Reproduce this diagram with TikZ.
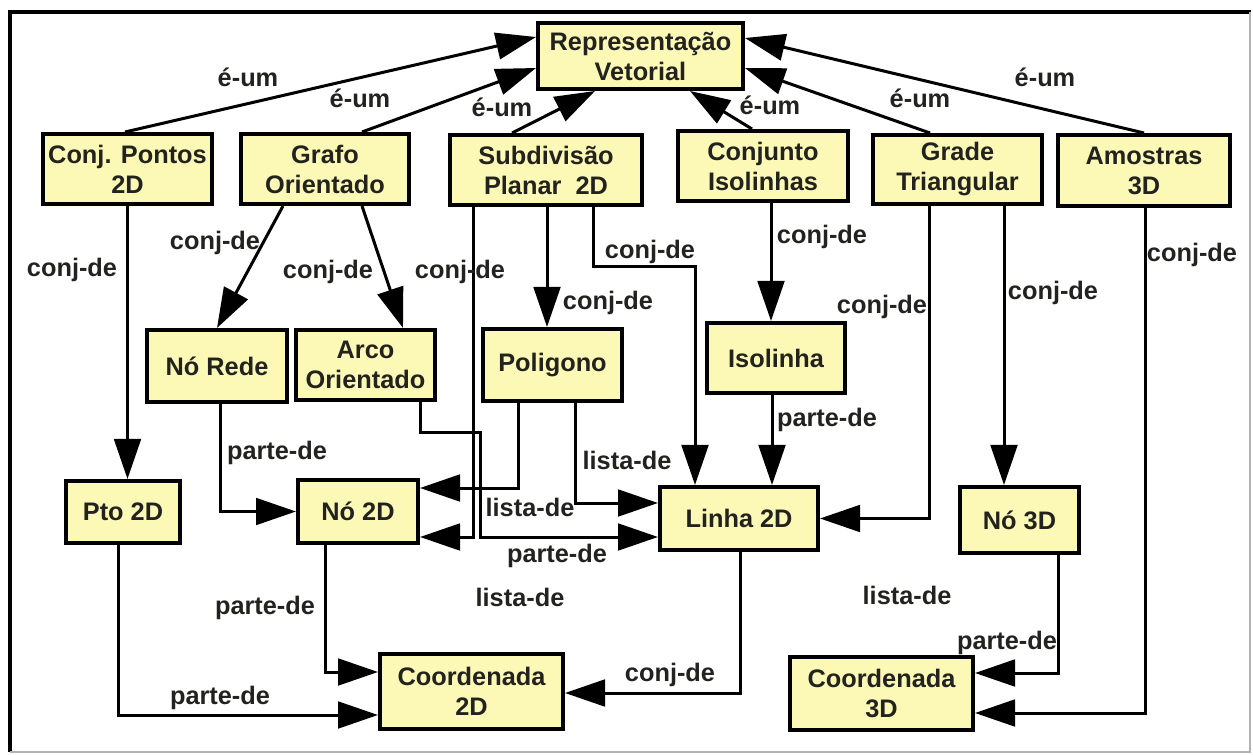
\documentclass[tikz,border=0pt]{standalone}
\usepackage{fontspec}
\setmainfont{Liberation Sans}
\usetikzlibrary{arrows.meta}
\definecolor{boxfill}{RGB}{252,248,182}
\definecolor{txt}{RGB}{34,34,30}
\tikzset{
  box/.style={draw, line width=3pt, fill=boxfill, align=center, inner sep=0pt, text=txt},
  sz/.style 2 args={minimum width=#1*0.75pt, minimum height=#2*0.75pt},
  arr/.style={line width=2.25pt, -{Triangle[length=30pt,width=20pt]}},
  lbl/.style={text=txt, inner sep=0pt}
}
\begin{document}
\begin{tikzpicture}[x=0.75pt, y=-0.75pt, font=\fontsize{19}{22.5}\selectfont\bfseries]
        \useasboundingbox (0,0) rectangle (1253,755);
        \draw[line width=3.5pt] (10,752) -- (10,12) -- (1251,12);
        \draw[gray!60, line width=1pt] (1250,12) -- (1250,752) -- (10,752);

        \node[box, sz={205}{66}] (rep) at (640.5,56) {Representação\\Vetorial};
        \node[box, sz={169}{70}] (conjpts) at (127.5,169) {Conj. Pontos\\2D};
        \node[box, sz={168}{70}] (grafo) at (325,169) {Grafo\\Orientado};
        \node[box, sz={192}{70}] (subdiv) at (546,170) {Subdivisão\\Planar\ \ 2D};
        \node[box, sz={170}{70}] (conjiso) at (763,166) {Conjunto\\Isolinhas};
        \node[box, sz={169}{69}] (grade) at (957.5,169.5) {Grade\\Triangular};
        \node[box, sz={172}{71}] (amostras) at (1144,170.5) {Amostras\\3D};
        \node[box, sz={140}{72}] (norede) at (217,366) {Nó Rede};
        \node[box, sz={139}{70}] (arco) at (365.5,365) {Arco\\Orientado};
        \node[box, sz={139}{72}] (poligono) at (552.5,365) {Poligono};
        \node[box, sz={138}{70}] (isolinha) at (776,358) {Isolinha};
        \node[box, sz={114}{62}] (pto) at (123,512) {Pto 2D};
        \node[box, sz={120}{63}] (no2d) at (358,511.5) {Nó 2D};
        \node[box, sz={158}{63}] (linha) at (739,518.5) {Linha 2D};
        \node[box, sz={119}{66}] (no3d) at (1019.5,520) {Nó 3D};
        \node[box, sz={183}{75}] (coord2) at (471.5,691.5) {Coordenada\\2D};
        \node[box, sz={183}{73}] (coord3) at (881.5,693.5) {Coordenada\\3D};

        \draw[arr] (conjpts.north -| 125,0) -- (rep.west |- 0,37);
        \draw[arr] (grafo.north -| 362,0) -- (rep.west |- 0,68);
        \draw[arr] (subdiv.north -| 512,0) -- (rep.south -| 595,0);
        \draw[arr] (conjiso.north -| 752,0) -- (rep.south -| 690,0);
        \draw[arr] (grade.north -| 930,0) -- (rep.east |- 0,68);
        \draw[arr] (amostras.north) -- (rep.east |- 0,38);

        \draw[arr] (conjpts.south) -- (conjpts.south |- pto.north);
        \draw[arr] (grafo.south -| 283,0) -- (norede.north);
        \draw[arr] (grafo.south -| 362,0) -- (arco.north -| 403,0);
        \draw[arr] (subdiv.south -| 473,0) |- (no2d.east |- 0,537);
        \draw[arr] (subdiv.south -| 547,0) -- (poligono.north -| 547,0);
        \draw[arr] (subdiv.south -| 593,0) -- ++(0,60) -| (linha.north -| 695,0);
        \draw[arr] (conjiso.south -| 771,0) -- (isolinha.north -| 771,0);
        \draw[arr] (grade.south -| 929,0) |- (linha.east);
        \draw[arr] (grade.south -| 1004,0) -- (no3d.north -| 1004,0);
        \draw[arr] (amostras.south -| 1145,0) |- (coord3.east |- 0,713);

        \draw[arr] (norede.south -| 220,0) |- (no2d.west);
        \draw[arr] (arco.south -| 420,0) |- (480,433) |- (linha.west |- 0,537);
        \draw[arr] (poligono.south -| 518,0) |- (no2d.east |- 0,488);
        \draw[arr] (poligono.south -| 575,0) |- (linha.west |- 0,503);
        \draw[arr] (isolinha.south -| 772,0) -- (linha.north -| 772,0);
        \draw[arr] (no2d.south -| 325,0) |- (coord2.west |- 0,672);
        \draw[arr] (pto.south -| 118,0) |- (coord2.west |- 0,715);
        \draw[arr] (linha.south -| 740,0) |- (coord2.east |- 0,693);
        \draw[arr] (no3d.south -| 1058,0) |- (coord3.east |- 0,673);

        \node[lbl] (eum1) at (248,77) {é-um};
        \node[lbl] (eum2) at (360,98) {é-um};
        \node[lbl] (eum3) at (502,107) {é-um};
        \node[lbl] (eum4) at (770,105) {é-um};
        \node[lbl] (eum5) at (920,98) {é-um};
        \node[lbl] (eum6) at (1045,77) {é-um};
        \node[lbl] (cd1) at (72,270) {conj-de};
        \node[lbl] (cd2) at (215,243) {conj-de};
        \node[lbl] (cd3) at (328,272) {conj-de};
        \node[lbl] (cd4) at (460,272) {conj-de};
        \node[lbl] (cd5) at (608,303) {conj-de};
        \node[lbl] (cd6) at (650,252) {conj-de};
        \node[lbl] (cd7) at (822,237) {conj-de};
        \node[lbl] (cd8) at (882,307) {conj-de};
        \node[lbl] (cd9) at (1053,293) {conj-de};
        \node[lbl] (cd10) at (1192,255) {conj-de};
        \node[lbl] (cd11) at (670,675) {conj-de};
        \node[lbl] (pd1) at (277,453) {parte-de};
        \node[lbl] (pd2) at (827,420) {parte-de};
        \node[lbl] (pd3) at (557,556) {parte-de};
        \node[lbl] (pd4) at (265,608) {parte-de};
        \node[lbl] (pd5) at (220,698) {parte-de};
        \node[lbl] (pd6) at (1007,643) {parte-de};
        \node[lbl] (ld1) at (627,460) {lista-de};
        \node[lbl] (ld2) at (530,507) {lista-de};
        \node[lbl] (ld3) at (520,597) {lista-de};
        \node[lbl] (ld4) at (907,595) {lista-de};
\end{tikzpicture}
\end{document}
